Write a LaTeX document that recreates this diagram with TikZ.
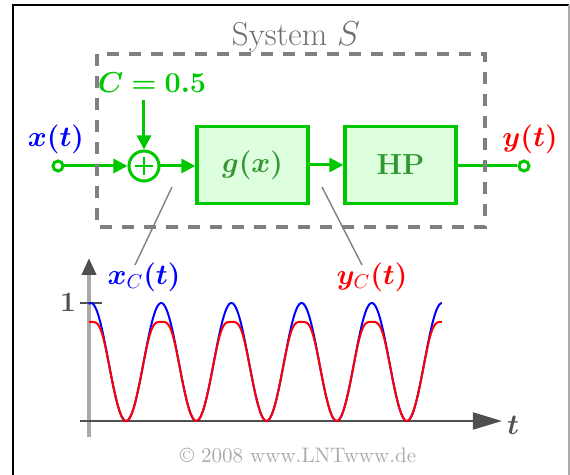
\documentclass[tikz,border=0pt]{standalone}
\usepackage{bm}
\usetikzlibrary{arrows.meta}
\definecolor{sig}{RGB}{0,200,0}
\definecolor{boxfill}{RGB}{222,255,222}
\definecolor{boxtext}{RGB}{50,150,50}
\definecolor{dashgray}{RGB}{128,128,128}
\definecolor{titlegray}{RGB}{110,110,110}
\definecolor{axisdark}{RGB}{80,80,80}
\definecolor{axislight}{RGB}{170,170,170}
\definecolor{sigblue}{RGB}{0,0,255}
\definecolor{sigred}{RGB}{255,0,0}
\begin{document}
\begin{tikzpicture}[x=0.5pt,y=-0.5pt,
  font=\fontsize{14}{16}\selectfont,
  sigline/.style={draw=sig, line width=1.5pt},
  sigarrow/.style={sigline, -{Triangle[length=7pt,width=7pt]}},
  block/.style={draw=sig, fill=boxfill, line width=1.6pt, minimum width=55.5pt, minimum height=38.5pt, text=boxtext, inner sep=0pt},
  adder/.style={circle, draw=sig, line width=1.5pt, minimum size=15pt, inner sep=0pt, fill=white},
  port/.style={circle, draw=sig, line width=1.5pt, minimum size=5pt, inner sep=0pt, fill=white},
  pointer/.style={draw=dashgray, line width=0.7pt},
  sysbox/.style={draw=dashgray, line width=2pt, dash pattern=on 6pt off 5pt}]
\useasboundingbox (0,0) rectangle (570,475);
% frame
\draw[black, line width=1pt] (13,475) -- (13,5) -- (569,5);
\draw[axislight, line width=0.6pt] (569,5) -- (569,475);

% nodes
\node[font=\fontsize{16.5}{19}\selectfont, text=titlegray] (title) at (296,37) {System $S$};
\node[text=sig] (C) at (152,83) {$\bm{C=0.5}$};
\node[port] (in) at (58,166) {};
\node[adder] (add) at (144,166) {};
\node[block, font=\fontsize{15}{17}\selectfont] (g) at (252.5,165) {$\bm{g(x)}$};
\node[block, font=\fontsize{14.5}{17}\selectfont] (hp) at (400.5,165) {\textbf{HP}};
\node[port] (out) at (524,166) {};
\node[text=sigblue] (xl) at (56,139) {$\bm{x(t)}$};
\node[text=sigred] (yl) at (530,139) {$\bm{y(t)}$};

% signal connections
\draw[sigarrow] (in) -- (add);
\draw[sigarrow] (C.south -| add.north) -- (add.north);
\draw[sigarrow] (add) -- (add -| g.west);
\draw[sigarrow] (g.east |- hp.west) -- (hp.west);
\draw[sigline] (hp.east |- out) -- (out);
\draw[sig, line width=0.8pt] ([xshift=-4.5pt]add.center) -- ([xshift=4.5pt]add.center);
\draw[sig, line width=0.8pt] ([yshift=-4.5pt]add.center) -- ([yshift=4.5pt]add.center);

% system box
\draw[sysbox] (97,54) rectangle (485,227);

% labels and pointers
\node[text=sigblue] (xcl) at (144,277) {$\bm{x}_{C}\bm{(t)}$};
\node[text=sigred] (ycl) at (372,277) {$\bm{y}_{C}\bm{(t)}$};
\coordinate (ps1) at (172,187);
\coordinate (pe1) at (135,265);
\coordinate (ps2) at (322,187);
\coordinate (pe2) at (362,265);
\draw[pointer] (ps1) -- (pe1);
\draw[pointer] (ps2) -- (pe2);

% axes
\coordinate (ybot) at (89,437);
\coordinate (ytop) at (89,258);
\coordinate (tleft) at (80,421);
\coordinate (tright) at (502,421);
\draw[axislight, line width=2pt, -{Triangle[length=8.5pt,width=7pt,color=axisdark]}] (ybot) -- (ytop);
\draw[axisdark, line width=0.9pt, -{Triangle[length=14.5pt,width=8.5pt]}] (tleft) -- (tright);
\node[text=axisdark] (tl) at (513,425) {$\bm{t}$};
\coordinate (tk1) at (80,303);
\coordinate (tk2) at (102,303);
\draw[axisdark, line width=0.9pt] (tk1) -- (tk2);
\node[text=axisdark] (one) at (68,302) {\textbf{1}};

% curves
\draw[sigblue, line width=1pt] plot[domain=-0.03:5, samples=400]
  ({91+70.2*\x}, {421-118*(0.5+0.5*cos(360*\x))});
\draw[sigred, line width=1pt] plot[domain=-0.03:5, samples=400]
  ({91+70.2*\x}, {421-118*((0.5+0.5*cos(360*\x)) - 0.16*(0.5+0.5*cos(360*\x))^6)});

% copyright
\node[text=axislight, font=\fontsize{10.5}{12}\selectfont] (copy) at (298,455) {\textcopyright\ 2008 www.LNTwww.de};
\end{tikzpicture}
\end{document}
